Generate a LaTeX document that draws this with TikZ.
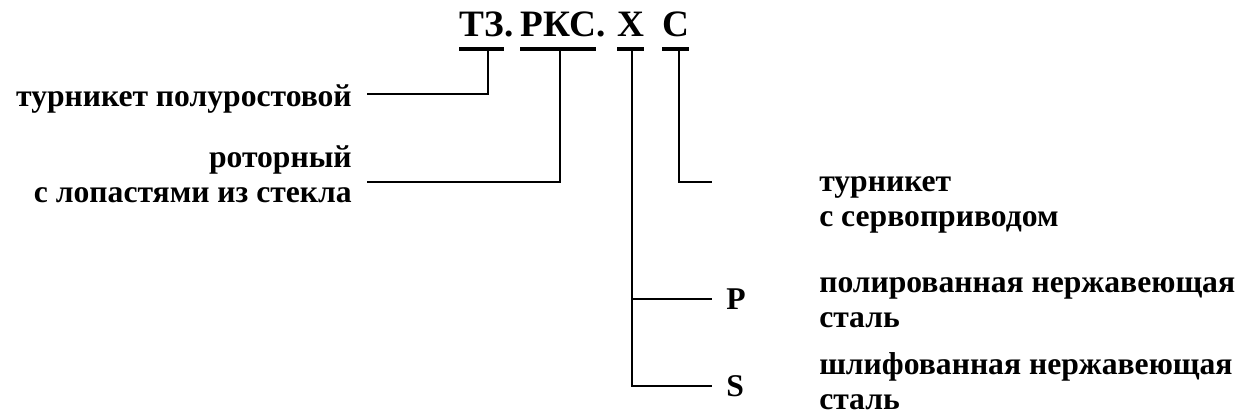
\documentclass[tikz,border=0pt]{standalone}
\usepackage{fontspec}
\setmainfont{Liberation Serif}
\usetikzlibrary{positioning}

\begin{document}
\begin{tikzpicture}[
		ttl/.style={inner sep=0pt,text depth=0.29cm,font=\bfseries\fontsize{26.5}{30}\selectfont},
		lbl/.style={inner sep=0pt,font=\bfseries\fontsize{22.5}{24.9}\selectfont},
		conn/.style={line width=1.45pt},
		uline/.style={line width=2.4pt}]
		\useasboundingbox (0,0) rectangle (31,10.425);

		% code letters
		\node[ttl,anchor=base west] (t3) at (11.475,9.5) {ТЗ};
		\node[ttl,base right=0pt of t3] (d1) {.};
		\node[ttl,anchor=base west] (rks) at (13.0,9.5) {РКС};
		\node[ttl,base right=0pt of rks] (d2) {.};
		\node[ttl,anchor=base west] (mat) at (15.425,9.5) {Х};
		\node[ttl,anchor=base west] (drv) at (16.55,9.5) {С};
		\foreach \n in {t3,rks,mat,drv}
			\draw[uline] (\n.south west) -- (\n.south east);

		% corners and line ends
		\coordinate (k1) at (12.2,8.075);
		\coordinate (k2) at (14.0,5.875);
		\coordinate (k3) at (15.8,2.95);
		\coordinate (k4) at (15.8,0.775);
		\coordinate (k5) at (16.975,5.875);
		\coordinate (e1) at (9.175,8.075);
		\coordinate (e2) at (9.175,5.875);
		\coordinate (e3) at (17.8,2.95);
		\coordinate (e4) at (17.8,0.775);
		\coordinate (e5) at (17.8,5.875);

		% texts (multi-line nodes sit on their last line)
		\node[lbl,anchor=base east] (half) at (8.8,7.75) {турникет полуростовой};
		\node[lbl,align=right,anchor=base east] (rot) at (8.8,5.35) {роторный\\с лопастями из стекла};
		\node[lbl,align=left,anchor=base west] (servo) at (20.475,4.75) {турникет\\с сервоприводом};
		\node[lbl,anchor=base west] (pp) at (18.15,2.675) {P};
		\node[lbl,anchor=base west] (ss) at (18.15,0.5) {S};
		\node[lbl,align=left,anchor=base west] (pol) at (20.475,2.225) {полированная нержавеющая\\сталь};
		\node[lbl,align=left,anchor=base west] (shl) at (20.475,0.18) {шлифованная нержавеющая\\сталь};

		% connectors
		\draw[conn] (t3.south -| k1) -- (k1) -- (e1);
		\draw[conn] (rks.south -| k2) -- (k2) -- (e2);
		\draw[conn] (drv.south -| k5) -- (k5) -- (e5);
		\draw[conn] (mat.south -| k4) -- (k4) -- (e4);
		\draw[conn] (k3) -- (e3);
\end{tikzpicture}
\end{document}
